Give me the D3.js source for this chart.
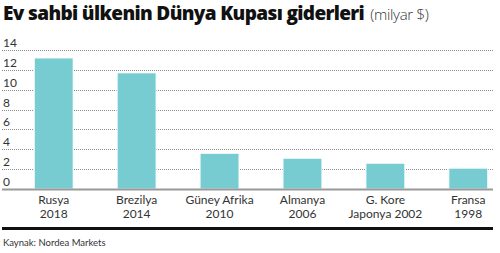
<!DOCTYPE html>
<html><head><meta charset="utf-8">
<script src="https://cdn.jsdelivr.net/npm/d3@7"></script>
<style>body{margin:0;background:#fff;}svg{display:block;}</style>
</head><body>
<svg id="c" width="500" height="253"></svg>
<script>
const categories = [["Rusya","2018"],["Brezilya","2014"],["Güney Afrika","2010"],["Almanya","2006"],["G. Kore","Japonya 2002"],["Fransa","1998"]];
const values = [13.2, 11.7, 3.6, 3.1, 2.6, 2.1];
const yTicks = [0, 2, 4, 6, 8, 10, 12, 14];
const title = "Ev sahbi ülkenin Dünya Kupası giderleri";
const unit = "(milyar $)";
const source = "Kaynak: Nordea Markets";

const svg = d3.select("#c");
const font = "Lato, 'Open Sans', sans-serif";
const x = d3.scaleBand().domain(categories.map((d,i)=>i)).range([12, 510]).paddingInner(0.53).paddingOuter(0.268);
const y = d3.scaleLinear().domain([0, 14]).range([189, 50]);

// title
const t = svg.append("text").attr("x", 3).attr("y", 20).attr("font-family", "'Open Sans', sans-serif")
  .attr("font-size", 19).attr("fill", "#111");
t.append("tspan").attr("font-weight", 800).attr("letter-spacing", -0.65).text(title);
t.append("tspan").attr("font-weight", 300).attr("font-size", 15).attr("fill", "#333").attr("dx", 6).attr("letter-spacing", -0.3).text(unit);

// gridlines
svg.append("g").selectAll("line").data(yTicks.filter(d=>d>0)).join("line")
  .attr("x1", 2).attr("x2", 493).attr("y1", d=>Math.round(y(d))+0.5).attr("y2", d=>Math.round(y(d))+0.5)
  .attr("stroke", "#8a8a8a").attr("stroke-width", 1).attr("stroke-dasharray", "1,1");

// y labels
svg.append("g").selectAll("text").data(yTicks).join("text")
  .attr("x", 3).attr("y", d=>y(d)-3).attr("font-family", font).attr("font-size", 12).attr("fill", "#333")
  .text(d=>d);

// bars
svg.append("g").selectAll("rect").data(values).join("rect")
  .attr("x", (d,i)=>x(i)).attr("width", x.bandwidth())
  .attr("y", d=>y(d)).attr("height", d=>y(0)-y(d))
  .attr("fill", "#77ccd1").attr("stroke", "#fff").attr("stroke-width", 1);

// baseline
svg.append("line").attr("x1", 2).attr("x2", 493).attr("y1", 189.5).attr("y2", 189.5)
  .attr("stroke", "#999").attr("stroke-width", 2);

// x labels
const xl = svg.append("g").selectAll("text").data(categories).join("text")
  .attr("text-anchor", "middle").attr("font-family", font).attr("font-size", 12).attr("fill", "#333")
  .attr("transform", (d,i)=>`translate(${x(i)+x.bandwidth()/2},0)`);
xl.append("tspan").attr("x", 0).attr("y", 204).text(d=>d[0]);
xl.append("tspan").attr("x", 0).attr("y", 218).text(d=>d[1]);

// bottom rule
svg.append("rect").attr("x", 2).attr("y", 227).attr("width", 491).attr("height", 3).attr("fill", "#111");

svg.append("text").attr("x", 3).attr("y", 246).attr("font-family", font).attr("font-size", 9.5).attr("fill", "#333").text(source);
</script>
</body></html>
